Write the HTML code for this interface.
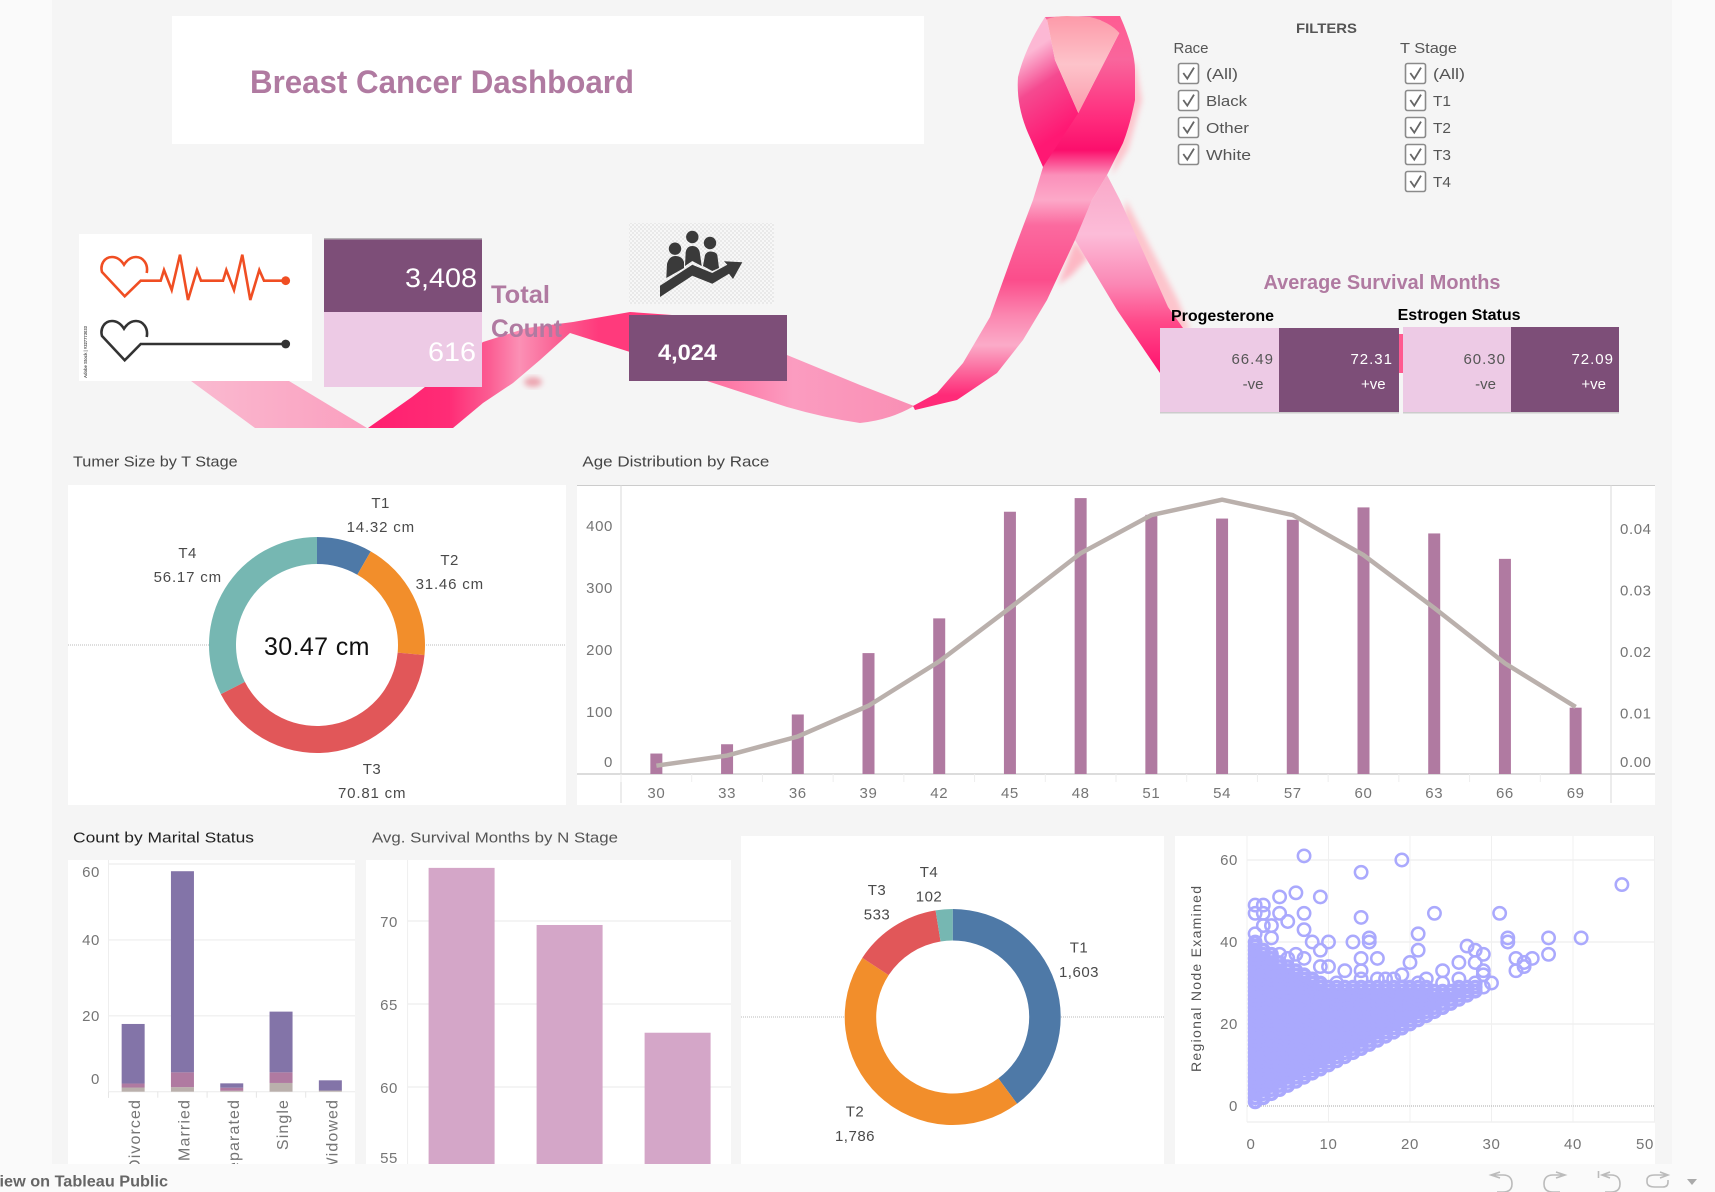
<!DOCTYPE html>
<html lang="en">
<head>
<meta charset="utf-8">
<title>Breast Cancer Dashboard</title>
<style>
html,body{margin:0;padding:0;background:#fafafa;width:1715px;height:1192px;overflow:hidden}
svg{display:block;font-family:"Liberation Sans",sans-serif}
.tick{font-size:15px;fill:#757575;letter-spacing:.6px}
.lab{font-size:15px;fill:#4a4a4a;letter-spacing:.5px}
.title{font-size:15px;fill:#444}
.flt{font-size:15px;fill:#555}
.cb{fill:#fff;stroke:#8a8a8a;stroke-width:1.6}
.ck{fill:none;stroke:#666;stroke-width:1.8}
.ic{fill:none;stroke:#bbb;stroke-width:1.6}
</style>
</head>
<body>
<svg xmlns="http://www.w3.org/2000/svg" width="1715" height="1192" viewBox="0 0 1715 1192">
<defs>
<linearGradient id="gTail" x1="0" y1="0" x2="1" y2="0"><stop offset="0" stop-color="#f9bdd2"/><stop offset="1" stop-color="#fb9fbf"/></linearGradient>
<linearGradient id="gRise" gradientUnits="userSpaceOnUse" x1="367" y1="0" x2="672" y2="0"><stop offset="0" stop-color="#ff1f6f"/><stop offset=".27" stop-color="#ff2c76"/><stop offset=".4" stop-color="#fb5c92"/><stop offset=".5" stop-color="#fb90b5"/><stop offset=".63" stop-color="#fa5f92"/><stop offset=".76" stop-color="#ff3a7c"/><stop offset="1" stop-color="#ff3a7c"/></linearGradient>
<linearGradient id="gFall" gradientUnits="userSpaceOnUse" x1="672" y1="0" x2="914" y2="0"><stop offset="0" stop-color="#ff5a90"/><stop offset=".5" stop-color="#fb9cc0"/><stop offset="1" stop-color="#f98fb4"/></linearGradient>
<linearGradient id="gUp" gradientUnits="userSpaceOnUse" x1="0" y1="16" x2="0" y2="406"><stop offset="0" stop-color="#ff5c92"/><stop offset=".113" stop-color="#f9659c"/><stop offset=".267" stop-color="#ff2a7c"/><stop offset=".344" stop-color="#fb0f6c"/><stop offset=".408" stop-color="#fb90ba"/><stop offset=".472" stop-color="#fca8c8"/><stop offset=".536" stop-color="#fb6a9f"/><stop offset=".677" stop-color="#fb4d8b"/><stop offset=".767" stop-color="#fb86b0"/><stop offset=".844" stop-color="#fbabc8"/><stop offset=".908" stop-color="#fb6a9e"/><stop offset=".972" stop-color="#ff2a78"/></linearGradient>
<linearGradient id="gLoop" gradientUnits="userSpaceOnUse" x1="1018" y1="60" x2="1065" y2="130"><stop offset="0" stop-color="#fcb8d4"/><stop offset=".4" stop-color="#f54a90"/><stop offset="1" stop-color="#ff1873"/></linearGradient>
<linearGradient id="gHole" x1="0" y1="0" x2="0" y2="1"><stop offset="0" stop-color="#fd9aa9"/><stop offset=".5" stop-color="#fdc3ca"/><stop offset="1" stop-color="#fb9bac"/></linearGradient>
<linearGradient id="gBack" gradientUnits="userSpaceOnUse" x1="0" y1="175" x2="0" y2="373"><stop offset="0" stop-color="#f9a8c8"/><stop offset=".3" stop-color="#fcbcd8"/><stop offset=".55" stop-color="#fb88b5"/><stop offset=".74" stop-color="#ff4a8a"/><stop offset="1" stop-color="#ff0f6c"/></linearGradient>
<pattern id="checker" width="4" height="4" patternUnits="userSpaceOnUse"><rect width="4" height="4" fill="#f7f7f7"/><rect width="2" height="2" fill="#e9e9e9"/><rect x="2" y="2" width="2" height="2" fill="#e9e9e9"/></pattern>
<filter id="soft" x="-30%" y="-30%" width="160%" height="160%"><feGaussianBlur stdDeviation="3"/></filter>
</defs>

<rect x="0" y="0" width="1715" height="1192" fill="#fafafa"/>
<rect x="52" y="0" width="1620" height="1164" fill="#f5f5f5"/>

<g>
  <polygon points="1126,200 1178,300 1190,330 1170,330 1120,240" fill="#fdc4cc" filter="url(#soft)"/>
  <polygon points="1135,60 1142,100 1128,150 1112,175 1120,120" fill="#fdc4cc" filter="url(#soft)"/>
  <polygon points="1075,240 1088,258 1072,275 1058,285" fill="#fdb8c4" filter="url(#soft)"/>
  <ellipse cx="533" cy="382" rx="9" ry="5" fill="#eda5b0" filter="url(#soft)"/>
  <polygon points="1107,175 1120,200 1168,307 1183,328 1160,373 1117,310 1093,270 1075,240 1092,200" fill="url(#gBack)"/>
  <polygon points="170,360 289,360 289,381 367,428 255,428 191,381" fill="url(#gTail)"/>
  <path d="M368,428 L453,428 L483,403 L513,383 L540,360 L570,333 L630,352 L672,315 L630,312 L573,322 L527,328 L483,342 L412,397Z" fill="url(#gRise)"/>
  <path d="M672,315 L787,355 L860,385 L914,406 Q890,420 860,423 Q825,418 787,407 L707,381 L629,350Z" fill="url(#gFall)"/>
  <path d="M1045,17 Q1025,48 1018,77 Q1016,105 1028,133 L1043,167 L1106,175 L1078.3,113 L1055,60 L1047,19Z" fill="url(#gLoop)"/>
  <polygon points="1045,17 1095,16 1100,20 1066,17 1047,20" fill="#f9659c"/>
  <path d="M1093,16 L1120,16 Q1135,50 1135,70 L1135,100 Q1130,125 1123,143 L1107,175 L1092,200 L1075,240 L1047,300 L1023,340 L997,373 L957,400 L915,410 L913,406 L937,393 L963,363 L990,317 L1013,253 L1033,200 L1043,167 L1078.3,113 L1119.3,33 L1100,20Z" fill="url(#gUp)"/>
  <path d="M1047,19 Q1055,16 1067,16 L1090,17 Q1110,22 1119.3,33 L1078.3,113 L1055,60Z" fill="url(#gHole)"/>
  <rect x="1397" y="334" width="8" height="39" fill="#ff5a90"/>
</g>

<rect x="172" y="16" width="752" height="128" fill="#fff"/>
<text x="250" y="93" font-size="32" font-weight="700" fill="#b07aa1" textLength="384" lengthAdjust="spacingAndGlyphs">Breast Cancer Dashboard</text>

<g>
  <rect x="79" y="234" width="233" height="147" fill="#fff"/>
  <path d="M146.7,273 C148.5,264 143,257 136,257 C131,257 127,260 124,264.7 C121,260 117,257 112,257 C104,257 100,265 102,272 L124.7,296.3 L140.7,280.7 H160.7 L164,270 L171.7,290 L180,254.7 L188,300 L197,270 L201,280.7 H223 L226.3,270 L234,290 L242.3,254.7 L250.3,300 L259.3,270 L264,280.7 H285.7" fill="none" stroke="#f04e23" stroke-width="2.6"/>
  <circle cx="285.7" cy="280.7" r="4.4" fill="#f04e23"/>
  <path d="M146.7,337 C148.5,328 143,321 136,321 C131,321 127,324 124,328.7 C121,324 117,321 112,321 C104,321 100,329 102,336 L124.7,360.3 L140.7,344 H285.7" fill="none" stroke="#333" stroke-width="2.6"/>
  <circle cx="285.7" cy="344" r="4.4" fill="#333"/>
  <text transform="translate(87,378) rotate(-90)" font-size="4.5" font-weight="700" fill="#555" textLength="52" lengthAdjust="spacingAndGlyphs">Adobe Stock | #327773033</text>
</g>

<g>
  <rect x="324" y="239" width="158" height="73" fill="#7d4e78"/>
  <rect x="324" y="238" width="158" height="1.5" fill="#b5b0b5"/>
  <rect x="324" y="312" width="158" height="75" fill="#edcae5"/>
  <text x="405" y="287" font-size="27" fill="#fff" textLength="72" lengthAdjust="spacingAndGlyphs">3,408</text>
  <text x="428" y="361" font-size="27" fill="#fff" textLength="48" lengthAdjust="spacingAndGlyphs">616</text>
  <text x="491" y="303" font-size="25" font-weight="700" fill="#b07aa1" textLength="59" lengthAdjust="spacingAndGlyphs">Total</text>
  <text x="491" y="337" font-size="25" font-weight="700" fill="#b07aa1" textLength="71" lengthAdjust="spacingAndGlyphs">Count</text>
</g>

<g>
  <rect x="629" y="223" width="145" height="81" fill="url(#checker)"/>
  <circle cx="692.3" cy="237" r="6.2" fill="#3a3a3a"/>
  <circle cx="675" cy="248.7" r="6.2" fill="#3a3a3a"/>
  <circle cx="710" cy="243" r="6.2" fill="#3a3a3a"/>
  <path d="M666.3,278 L667,264 Q669,256 675.5,256 Q682,256 684,262 L684,268Z M685,266 L685.7,252 Q687,246 692.3,246 Q698,246 699.7,252 L701.7,266 L692.3,261Z M703,266 L705,255 Q707,251.5 710,251.5 Q716,251.5 717.3,255 L719,268 L712.3,271Z" fill="#3a3a3a"/>
  <polygon points="660,285.7 692.3,264.7 712.3,273 727.3,264.7 724,261.3 742.3,262.3 733,279 729,273.7 712.3,283.7 692.3,275.7 660,297" fill="#3a3a3a"/>
  <rect x="629" y="315" width="158" height="66" fill="#7d4e78"/>
  <text x="658" y="360" font-size="22" fill="#fff" font-weight="700" textLength="59" lengthAdjust="spacingAndGlyphs">4,024</text>
</g>

<g>
  <text x="1296" y="33" font-size="14" font-weight="700" fill="#555" textLength="61" lengthAdjust="spacingAndGlyphs">FILTERS</text>
  <text class="flt" x="1173.5" y="53" textLength="35" lengthAdjust="spacingAndGlyphs">Race</text>
  <text class="flt" x="1400" y="53" textLength="57" lengthAdjust="spacingAndGlyphs">T Stage</text>
  <g><rect class="cb" x="1178.5" y="63.5" width="20" height="20" rx="2"/><path class="ck" d="M1183.3,73 L1187.3,78.6 L1194,67.6"/><text class="flt" x="1206" y="79" textLength="32" lengthAdjust="spacingAndGlyphs">(All)</text></g>
  <g><rect class="cb" x="1178.5" y="90.5" width="20" height="20" rx="2"/><path class="ck" d="M1183.3,100 L1187.3,105.6 L1194,94.6"/><text class="flt" x="1206" y="106" textLength="41" lengthAdjust="spacingAndGlyphs">Black</text></g>
  <g><rect class="cb" x="1178.5" y="117.5" width="20" height="20" rx="2"/><path class="ck" d="M1183.3,127 L1187.3,132.6 L1194,121.6"/><text class="flt" x="1206" y="133" textLength="43" lengthAdjust="spacingAndGlyphs">Other</text></g>
  <g><rect class="cb" x="1178.5" y="144.5" width="20" height="20" rx="2"/><path class="ck" d="M1183.3,154 L1187.3,159.6 L1194,148.6"/><text class="flt" x="1206" y="160" textLength="45" lengthAdjust="spacingAndGlyphs">White</text></g>
  <g><rect class="cb" x="1405.5" y="63.5" width="20" height="20" rx="2"/><path class="ck" d="M1410.3,73 L1414.3,78.6 L1421,67.6"/><text class="flt" x="1433" y="79" textLength="32" lengthAdjust="spacingAndGlyphs">(All)</text></g>
  <g><rect class="cb" x="1405.5" y="90.5" width="20" height="20" rx="2"/><path class="ck" d="M1410.3,100 L1414.3,105.6 L1421,94.6"/><text class="flt" x="1433" y="106" textLength="18" lengthAdjust="spacingAndGlyphs">T1</text></g>
  <g><rect class="cb" x="1405.5" y="117.5" width="20" height="20" rx="2"/><path class="ck" d="M1410.3,127 L1414.3,132.6 L1421,121.6"/><text class="flt" x="1433" y="133" textLength="18" lengthAdjust="spacingAndGlyphs">T2</text></g>
  <g><rect class="cb" x="1405.5" y="144.5" width="20" height="20" rx="2"/><path class="ck" d="M1410.3,154 L1414.3,159.6 L1421,148.6"/><text class="flt" x="1433" y="160" textLength="18" lengthAdjust="spacingAndGlyphs">T3</text></g>
  <g><rect class="cb" x="1405.5" y="171.5" width="20" height="20" rx="2"/><path class="ck" d="M1410.3,181 L1414.3,186.6 L1421,175.6"/><text class="flt" x="1433" y="187" textLength="18" lengthAdjust="spacingAndGlyphs">T4</text></g>
</g>

<g>
  <text x="1263.5" y="289" font-size="20" font-weight="700" fill="#b07aa1" textLength="237" lengthAdjust="spacingAndGlyphs">Average Survival Months</text>
  <text x="1171" y="321" font-size="16" font-weight="700" fill="#000" textLength="103" lengthAdjust="spacingAndGlyphs">Progesterone</text>
  <text x="1397.6" y="320" font-size="16" font-weight="700" fill="#000" textLength="123" lengthAdjust="spacingAndGlyphs">Estrogen Status</text>
  <rect x="1160" y="328" width="119" height="84" fill="#edcae5"/>
  <rect x="1279" y="328" width="120" height="84" fill="#7d4e78"/>
  <rect x="1403" y="327" width="108" height="85" fill="#edcae5"/>
  <rect x="1511" y="327" width="108" height="85" fill="#7d4e78"/>
  <rect x="1160" y="412" width="239" height="1.5" fill="#ccc"/>
  <rect x="1403" y="412" width="216" height="1.5" fill="#ccc"/>
  <text x="1274" y="364" font-size="15" fill="#555" text-anchor="end" letter-spacing="1">66.49</text>
  <text x="1263.5" y="389" font-size="15" fill="#555" text-anchor="end">-ve</text>
  <text x="1393" y="364" font-size="15" fill="#fff" text-anchor="end" letter-spacing="1">72.31</text>
  <text x="1385.6" y="389" font-size="15" fill="#fff" text-anchor="end">+ve</text>
  <text x="1506" y="364" font-size="15" fill="#555" text-anchor="end" letter-spacing="1">60.30</text>
  <text x="1496" y="389" font-size="15" fill="#555" text-anchor="end">-ve</text>
  <text x="1614" y="364" font-size="15" fill="#fff" text-anchor="end" letter-spacing="1">72.09</text>
  <text x="1606" y="389" font-size="15" fill="#fff" text-anchor="end">+ve</text>
</g>

<text class="title" x="73" y="466.7" textLength="164.6" lengthAdjust="spacingAndGlyphs">Tumer Size by T Stage</text>
<text class="title" x="582.4" y="466.7" textLength="187" lengthAdjust="spacingAndGlyphs">Age Distribution by Race</text>
<text class="title" x="73" y="842.7" style="fill:#222" textLength="181" lengthAdjust="spacingAndGlyphs">Count by Marital Status</text>
<text class="title" x="372" y="842.7" style="fill:#555" textLength="246" lengthAdjust="spacingAndGlyphs">Avg. Survival Months by N Stage</text>

<rect x="68" y="485" width="498" height="320" fill="#fff"/>
<rect x="577" y="485" width="1078" height="320" fill="#fff"/>
<rect x="68" y="860" width="287" height="304" fill="#fff"/>
<rect x="366" y="860" width="365" height="304" fill="#fff"/>
<rect x="741" y="836" width="423" height="328" fill="#fff"/>
<rect x="1175" y="836" width="480" height="328" fill="#fff"/>

<g id="tumor-chart"></g>
<g id="age-chart"></g>
<g id="marital-chart"></g>
<g id="nstage-chart"></g>
<g id="tcount-chart"></g>
<g id="scatter-chart"></g>

<g>
  <rect x="0" y="1164" width="1715" height="28" fill="#fafafa"/>
  <text x="-11" y="1186.5" font-size="16" font-weight="700" fill="#666" textLength="179" lengthAdjust="spacingAndGlyphs">View on Tableau Public</text>
  <path class="ic" d="M1500,1172 L1491,1175 L1500,1178 M1491,1175 H1503 Q1512,1175 1512,1184 Q1512,1192 1503,1192 H1497"/>
  <path class="ic" d="M1556,1172 L1565,1175 L1556,1178 M1565,1175 H1553 Q1544,1175 1544,1184 Q1544,1192 1553,1192 H1560"/>
  <path class="ic" d="M1598.5,1171 V1178 M1610,1172 L1602,1175 L1610,1178 M1602,1175 H1611 Q1620,1175 1620,1184 Q1620,1192 1611,1192 H1605"/>
  <path class="ic" d="M1660,1172 L1668,1175 L1660,1178 M1668,1175 H1655 Q1647,1175 1647,1180 V1182 Q1647,1187 1655,1187 H1663 Q1668,1187 1668,1182 V1180"/>
  <polygon points="1687,1179 1697,1179 1692,1185" fill="#aaa"/>
</g>
</svg>

<script>
// ---- Tumor size donut ----
const tumorStages = ["T1", "T2", "T3", "T4"];
const tumorSizes = [14.32, 31.46, 70.81, 56.17];
const tumorAverage = "30.47 cm";
// ---- Age distribution ----
const ageBins = [30, 33, 36, 39, 42, 45, 48, 51, 54, 57, 60, 63, 66, 69];
const ageCounts = [33, 48, 96, 195, 251, 423, 445, 418, 412, 410, 430, 388, 347, 107];
const ageDensity = [0.00135, 0.003, 0.0061, 0.0111, 0.0183, 0.027, 0.0359, 0.0421, 0.0446, 0.0421, 0.0356, 0.027, 0.018, 0.0109];
const ageLeftTicks = [0, 100, 200, 300, 400];
const ageRightTicks = [0, 0.01, 0.02, 0.03, 0.04];
// ---- Marital status ----
const maritalCategories = ["Divorced", "Married", "Separated", "Single", "Widowed"];
const maritalGrey = [1.1, 1.2, 0.25, 2.3, 0.3];
const maritalPink = [1.05, 3.9, 0.8, 2.8, 0];
const maritalPurple = [15.7, 53, 1.15, 16, 2.7];
const maritalTicks = [0, 20, 40, 60];
// ---- N stage ----
const nStages = ["N1", "N2", "N3"];
const nStageSurvival = [73.2, 69.76, 63.27];
const nStageTicks = [55, 60, 65, 70];
// ---- T stage counts ----
const countStages = ["T1", "T2", "T3", "T4"];
const countValues = [1603, 1786, 533, 102];
const countLabels = ["1,603", "1,786", "533", "102"];
// ---- Scatter: regional nodes examined by nodes positive ----
const scatterXTicks = [0, 10, 20, 30, 40, 50];
const scatterYTicks = [0, 20, 40, 60];
const scatterPositive = [1,2,3,4,5,6,7,8,9,10,11,12,13,14,15,16,17,18,19,20,21,22,23,24,25,26,27,28];
const scatterExamined = [
 [1,2,3,4,5,6,7,8,9,10,11,12,13,14,15,16,17,18,19,20,21,22,23,24,25,26,27,28,29,30,31,32,33,34,35,36,37,38,39,40],
 [2,3,4,5,6,7,8,9,10,11,12,13,14,15,16,17,18,19,20,21,22,23,24,25,26,27,28,29,30,31,32,33,34,35,36,37,38],
 [3,4,5,6,7,8,9,10,11,12,13,14,15,16,17,18,19,20,21,22,23,24,25,26,27,28,29,30,31,32,33,34,35,36,37],
 [4,5,6,7,8,9,10,11,12,13,14,15,16,17,18,19,20,21,22,23,24,25,26,27,28,29,30,31,32,33,34,35],
 [5,6,7,8,9,10,11,12,13,14,15,16,17,18,19,20,21,22,23,24,25,26,27,28,29,30,31,32,33,34],
 [6,7,8,9,10,11,12,13,14,15,16,17,18,19,20,21,22,23,24,25,26,27,28,29,30,31,32,33],
 [7,8,9,10,11,12,13,14,15,16,17,18,19,20,21,22,23,24,25,26,27,28,29,30,31,32],
 [8,9,10,11,12,13,14,15,16,17,18,19,20,21,22,23,24,25,26,27,28,29,30,31],
 [9,10,11,12,13,14,15,16,17,18,19,20,21,22,23,24,25,26,27,28,29,30],
 [10,11,12,13,14,15,16,17,18,19,20,21,22,23,24,25,26,27,28,29],
 [11,12,13,14,15,16,17,18,19,20,21,22,23,24,25,26,27,28,29],
 [12,13,14,15,16,17,18,19,20,21,22,23,24,25,26,27,28,29],
 [13,14,15,16,17,18,19,20,21,22,23,24,25,26,27,28,29],
 [14,15,16,17,18,19,20,21,22,23,24,25,26,27,28,29],
 [15,16,17,18,19,20,21,22,23,24,25,26,27,28,29],
 [16,17,18,19,20,21,22,23,24,25,26,27,28,29],
 [17,18,19,20,21,22,23,24,25,26,27,28,29],
 [18,19,20,21,22,23,24,25,26,27,28,29],
 [19,20,21,22,23,24,25,26,27,28,29],
 [20,21,22,23,24,25,26,27,28,29],
 [21,22,23,24,25,26,27,28,29],
 [22,23,24,25,26,27,28,29],
 [23,24,25,26,27,28],
 [24,25,26,27,28],
 [25,26,27,28],
 [26,27,28,29],
 [27,28,29],
 [28,29]
];
const scatterOutliers = [[7,61],[14,57],[19,60],[46,54],[9,51],[6,52],[4,51],[1,49],[2,49],[1,47],[2,47],[4,47],[7,47],[5,45],[14,46],[23,47],[31,47],[7,43],[3,44],[2,44],[1,42],[3,41],[21,42],[15,41],[15,40],[32,41],[32,40],[37,41],[41,41],[8,40],[10,40],[13,40],[9,38],[6,37],[4,37],[5,36],[14,36],[16,36],[21,38],[27,39],[28,38],[29,37],[37,37],[35,36],[33,36],[34,35],[34,34],[33,33],[7,36],[9,34],[10,34],[20,35],[28,35],[26,35],[24,33],[12,33],[14,33],[14,31],[19,32],[29,33],[29,32],[30,30],[29,29],[11,30],[16,31],[17,31],[18,31],[22,31],[26,31],[24,30],[8,30],[9,29],[21,30],[28,30]];

const SVGNS = "http://www.w3.org/2000/svg";
const stageColors = ["#4e79a7", "#f28e2b", "#e15759", "#76b7b2"];

function mk(parent, tag, attrs) {
  const el = document.createElementNS(SVGNS, tag);
  for (const k in attrs) el.setAttribute(k, attrs[k]);
  parent.appendChild(el);
  return el;
}
function txt(parent, x, y, str, cls, anchor) {
  const el = mk(parent, "text", {x: x, y: y, class: cls, "text-anchor": anchor || "middle"});
  el.textContent = str;
  return el;
}
function arcPath(cx, cy, R, r, a0, a1) {
  const p = (rad, a) => [cx + rad * Math.sin(a), cy - rad * Math.cos(a)];
  const large = a1 - a0 > Math.PI ? 1 : 0;
  const o0 = p(R, a0), o1 = p(R, a1), i1 = p(r, a1), i0 = p(r, a0);
  return "M" + o0 + "A" + R + "," + R + " 0 " + large + " 1 " + o1 + "L" + i1 + "A" + r + "," + r + " 0 " + large + " 0 " + i0 + "Z";
}
function drawDonut(group, cx, cy, R, r, values, names, x0, x1) {
  const line = mk(group, "line", {x1: x0, x2: x1, y1: cy, y2: cy, stroke: "#bbb", "stroke-width": 1, "stroke-dasharray": "1 1"});
  
  
  const bg = mk(group, "circle", {cx: cx, cy: cy, r: R, fill: "#fff"});
  
  
  const total = values.reduce((a, b) => a + b, 0);
  let acc = 0;
  values.forEach((v, i) => {
    const a0 = acc / total * 2 * Math.PI;
    acc += v;
    const a1 = acc / total * 2 * Math.PI;
    const slice = mk(group, "path", {d: arcPath(cx, cy, R, r, a0, a1), fill: stageColors[i]});
    
    
  });
}

// Tumor donut
(function () {
  const g = document.getElementById("tumor-chart");
  drawDonut(g, 317, 645, 108, 81, tumorSizes, tumorStages, 68, 566);
  const labelX = [380.6, 449.6, 372, 187.6];
  const labelY = [508, 565, 774, 558];
  tumorStages.forEach((s, i) => {
    const a = txt(g, labelX[i], labelY[i], s, "lab");
    
    
    const b = txt(g, labelX[i], labelY[i] + 24, tumorSizes[i].toFixed(2) + " cm", "lab");
    
    
    b.setAttribute('textLength', '68');
  });
  const c = txt(g, 317, 655, tumorAverage, "lab");
  
  
  c.setAttribute('style', 'font-size:25px;fill:#111');
  c.setAttribute('textLength', '106');
})();

// Age distribution
(function () {
  const g = document.getElementById("age-chart");
  const left = 621, right = 1611, base = 774;
  const band = (right - left) / ageBins.length;
  const ageX = i => left + band * (i + 0.5);
  const countY = v => base - 0.62 * v;
  const densityY = v => base - 6150 * v;
  const top = mk(g, "line", {x1: 577, x2: 1655, y1: 485.5, y2: 485.5, stroke: "#ccc"});
  
  
  const ax = mk(g, "line", {x1: 577, x2: 1655, y1: base, y2: base, stroke: "#c8c8c8", "stroke-width": 1.2});
  
  
  [left, right].forEach(x => {
    const v = mk(g, "line", {x1: x, x2: x, y1: 485, y2: 803, stroke: "#d8d8d8"});
    
    
  });
  ageBins.forEach((b, i) => {
    const t = mk(g, "line", {x1: left + band * i, x2: left + band * i, y1: base, y2: base + 8, stroke: "#eee"});
    
    
    const bar = mk(g, "rect", {x: ageX(i) - 6, y: countY(ageCounts[i]), width: 12, height: base - countY(ageCounts[i]), fill: "#b07aa1"});
    
    
    const lab = txt(g, ageX(i), 798, String(b), "tick");
    
    
  });
  const pts = ageDensity.map((d, i) => ageX(i) + "," + densityY(d)).join(" ");
  const line = mk(g, "polyline", {points: pts, fill: "none", stroke: "#bab0ac", "stroke-width": 4.5});
  
  
  ageLeftTicks.forEach(v => {
    const l = txt(g, 613, Math.min(countY(v) + 5, 767), String(v), "tick", "end");
    
    
  });
  ageRightTicks.forEach(v => {
    const l = txt(g, 1620, Math.min(densityY(v) + 6, 767), v.toFixed(2), "tick", "start");
    
    
  });
})();

// Marital status
(function () {
  const g = document.getElementById("marital-chart");
  const left = 108.5, base = 1091.7, band = 49.3;
  const mX = i => left + band * (i + 0.5);
  const mY = v => base - 3.795 * v;
  maritalTicks.forEach(v => {
    const grid = mk(g, "line", {x1: left, x2: 355, y1: mY(v), y2: mY(v), stroke: "#f0f0f0", "stroke-width": 1.4});
    
    
    const l = txt(g, 100, Math.min(Math.max(mY(v) + 5, 877), 1084), String(v), "tick", "end");
    
    
  });
  const yAxis = mk(g, "line", {x1: left, x2: left, y1: 860, y2: 1098, stroke: "#eee"});
  
  
  maritalCategories.forEach((c, i) => {
    const t = mk(g, "line", {x1: left + band * i, x2: left + band * i, y1: base, y2: base + 6, stroke: "#e6e6e6"});
    
    
    let acc = 0;
    [[maritalGrey, "#bab0ac", "grey"], [maritalPink, "#b07aa1", "pink"], [maritalPurple, "#8374a8", "purple"]].forEach(s => {
      const v = s[0][i];
      const seg = mk(g, "rect", {x: mX(i) - 11.5, y: mY(acc + v), width: 23, height: mY(acc) - mY(acc + v), fill: s[1]});
      
      
      acc += v;
    });
    const lab = txt(g, 0, 0, c, "tick", "end");
    lab.setAttribute('transform', 'translate(' + (mX(i) + 7) + ',1099) rotate(-90)');
    lab.setAttribute('style', 'font-size:16px;letter-spacing:1.1px');
    
    
  });
})();

// N stage
(function () {
  const g = document.getElementById("nstage-chart");
  const left = 407.6, band = 108;
  const nX = i => left + band * (i + 0.5);
  const nY = v => 1087 - 16.6 * (v - 60);
  const yAxis = mk(g, "line", {x1: left, x2: left, y1: 860, y2: 1164, stroke: "#eee"});
  
  
  nStageTicks.forEach(v => {
    const grid = mk(g, "line", {x1: left, x2: 731, y1: nY(v), y2: nY(v), stroke: "#f0f0f0", "stroke-width": 1.4});
    
    
    const l = txt(g, 398, Math.min(nY(v) + 6, 1163), String(v), "tick", "end");
    
    
  });
  nStages.forEach((s, i) => {
    const bar = mk(g, "rect", {x: nX(i) - 33, y: nY(nStageSurvival[i]), width: 66, height: nY(55) - nY(nStageSurvival[i]), fill: "#d4a6c8"});
    
    
  });
})();

// T stage count donut
(function () {
  const g = document.getElementById("tcount-chart");
  drawDonut(g, 952.7, 1017, 108, 76.5, countValues, countStages, 741, 1164);
  const labelX = [1079, 855, 877, 929];
  const labelY = [952.7, 1116.7, 895, 877];
  countStages.forEach((s, i) => {
    const a = txt(g, labelX[i], labelY[i], s, "lab");
    
    
    const b = txt(g, labelX[i], labelY[i] + 24.5, countLabels[i], "lab");
    
    
  });
})();

// Scatter
(function () {
  const g = document.getElementById("scatter-chart");
  const sX = v => 1247 + 8.15 * v;
  const sY = v => 1106 - 4.1 * v;
  scatterXTicks.forEach(v => {
    const grid = mk(g, "line", {x1: sX(v), x2: sX(v), y1: 836, y2: 1122, stroke: "#f0f0f0"});
    
    
    const l = txt(g, Math.min(Math.max(sX(v), 1251), 1645), 1149, String(v), "tick");
    
    
  });
  scatterYTicks.forEach(v => {
    const grid = mk(g, "line", {x1: 1247, x2: 1655, y1: sY(v), y2: sY(v), stroke: v === 0 ? "#aaa" : "#f0f0f0", "stroke-width": v === 0 ? 1 : 1.4, "stroke-dasharray": v === 0 ? "1 1" : "none"});
    
    
    const l = txt(g, 1238, sY(v) + 5, String(v), "tick", "end");
    
    
  });
  const bottom = mk(g, "line", {x1: 1247, x2: 1655, y1: 1122, y2: 1122, stroke: "#f0f0f0", "stroke-width": 1.4});
  
  
  const title = txt(g, 0, 0, "Regional Node Examined", "tick");
  title.setAttribute('transform', 'translate(1201,979) rotate(-90)');
  title.setAttribute('style', 'fill:#555;font-size:14px;letter-spacing:0');
  title.setAttribute('textLength', '186');
  
  
  const plot = (x, y, r, w) => {
    const pt = mk(g, "circle", {cx: sX(x), cy: sY(y), r: r, fill: "none", stroke: "#aaa9fd", "stroke-width": w});
    
    
  };
  scatterPositive.forEach((x, i) => scatterExamined[i].forEach(y => plot(x, y, 5.6, 3.6)));
  scatterOutliers.forEach(p => plot(p[0], p[1], 6.2, 2.5));
})();
</script>
</body>
</html>
